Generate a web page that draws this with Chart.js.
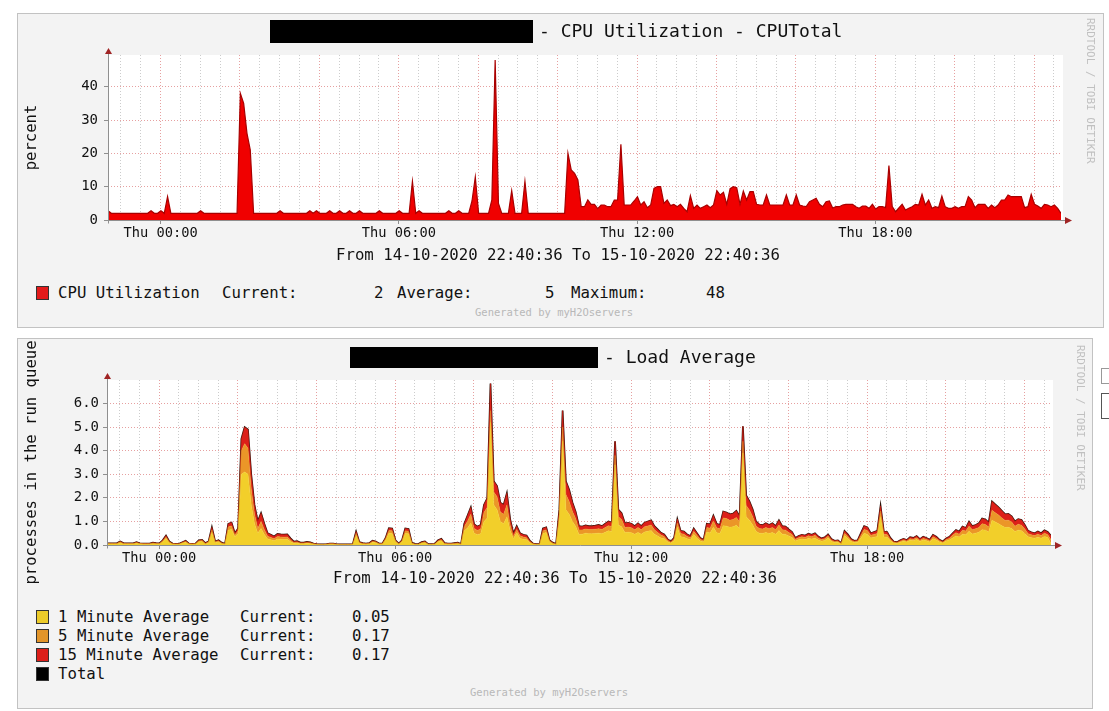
<!DOCTYPE html>
<html>
<head>
<meta charset="utf-8">
<title>CPU Utilization / Load Average</title>
<script src="https://cdn.jsdelivr.net/npm/chart.js@4.4.1/dist/chart.umd.min.js"></script>
<style>
    html, body { margin: 0; padding: 0; background: #fff; }
    body {
        position: relative;
        width: 1109px;
        height: 711px;
        overflow: hidden;
        font-family: 'DejaVu Sans Mono', monospace;
        color: #111;
    }
    .panel {
        position: absolute;
        box-sizing: border-box;
        background: #f3f3f3;
        border: 1px solid #c2c2c2;
    }
    .txt {
        position: absolute;
        white-space: pre;
        height: 20px;
        line-height: 20px;
    }
    .title { font-size: 18px; }
    .big { font-size: 15.7px; }
    .small { font-size: 10.5px; color: #b8b8b8; }
    .mark {
        position: absolute;
        font-size: 11px;
        color: #c0c0c0;
        writing-mode: vertical-rl;
        white-space: pre;
    }
    .redact { position: absolute; background: #000; }
    .swatch { position: absolute; width: 11px; height: 12px; border: 1px solid #333; }
    canvas { position: absolute; }
</style>
</head>
<body>

<div class="panel" style="left:17px; top:13px; width:1087px; height:315px;"></div>
<div class="panel" style="left:17px; top:338px; width:1076px; height:371px;"></div>

<!-- bits of the page next to the second graph -->
<div style="position:absolute; left:1101px; top:368px; width:14px; height:14px; border:1px solid #999;"></div>
<div style="position:absolute; left:1101px; top:393px; width:14px; height:24px; border:1px solid #555;"></div>

<canvas id="cpuChart" width="1084" height="250" style="left:18px; top:14px;"></canvas>
<canvas id="loadChart" width="1073" height="250" style="left:18px; top:340px;"></canvas>

<!-- CPU graph texts -->
<div class="redact" style="left:270px; top:20px; width:263px; height:23px;"></div>
<div class="txt title" style="left:539px; top:21px;">- CPU Utilization - CPUTotal</div>
<div class="mark" style="left:1084px; top:18px;">RRDTOOL / TOBI OETIKER</div>
<div class="txt big" style="left:336px; top:245px;">From 14-10-2020 22:40:36 To 15-10-2020 22:40:36</div>
<div class="swatch" style="left:36px; top:286px; background:#e31b1b;"></div>
<div class="txt big" style="left:58px; top:283px;">CPU Utilization</div>
<div class="txt big" style="left:222px; top:283px;">Current:</div>
<div class="txt big" style="left:374px; top:283px;">2</div>
<div class="txt big" style="left:397px; top:283px;">Average:</div>
<div class="txt big" style="left:545px; top:283px;">5</div>
<div class="txt big" style="left:571px; top:283px;">Maximum:</div>
<div class="txt big" style="left:706px; top:283px;">48</div>
<div class="txt small" style="left:475px; top:302px;">Generated by myH2Oservers</div>

<!-- load graph texts -->
<div class="redact" style="left:350px; top:347px; width:248px; height:21px;"></div>
<div class="txt title" style="left:604px; top:347px;">- Load Average</div>
<div class="mark" style="left:1074px; top:345px;">RRDTOOL / TOBI OETIKER</div>
<div class="txt big" style="left:333px; top:568px;">From 14-10-2020 22:40:36 To 15-10-2020 22:40:36</div>
<div class="swatch" style="left:36px; top:610px; background:#eccb2a;"></div>
<div class="swatch" style="left:36px; top:629px; background:#e3952a;"></div>
<div class="swatch" style="left:36px; top:648px; background:#dc1f1a;"></div>
<div class="swatch" style="left:36px; top:667px; background:#000;"></div>
<div class="txt big" style="left:58px; top:607px;">1 Minute Average</div>
<div class="txt big" style="left:58px; top:626px;">5 Minute Average</div>
<div class="txt big" style="left:58px; top:645px;">15 Minute Average</div>
<div class="txt big" style="left:58px; top:664px;">Total</div>
<div class="txt big" style="left:240px; top:607px;">Current:</div>
<div class="txt big" style="left:240px; top:626px;">Current:</div>
<div class="txt big" style="left:240px; top:645px;">Current:</div>
<div class="txt big" style="left:352px; top:607px;">0.05</div>
<div class="txt big" style="left:352px; top:626px;">0.17</div>
<div class="txt big" style="left:352px; top:645px;">0.17</div>
<div class="txt small" style="left:470px; top:682px;">Generated by myH2Oservers</div>

<script>
// 5 minute samples, 14-10-2020 22:40:36 -> 15-10-2020 22:40:36
const stepMinutes = 5;
const startClock = 22 + 40 / 60 + 36 / 3600;   // hours of day at first sample

// CPU total, percent
const cpuTotal = [
    2.8, 2, 2, 2, 2, 2, 2, 2, 2, 2, 2, 2,
    2, 2.8, 2, 2, 2.8, 2, 7, 2, 2, 2, 2, 2,
    2, 2, 2, 2, 2.8, 2, 2, 2, 2, 2, 2, 2,
    2, 2, 2, 2, 38, 35, 26, 21, 2, 2, 2, 2,
    2, 2, 2, 2, 2.8, 2, 2, 2, 2, 2, 2, 2,
    2, 2.8, 2, 2.8, 2, 2, 2, 2.8, 2, 2, 2.8, 2,
    2, 2.8, 2, 2, 2.8, 2, 2, 2, 2, 2, 2.8, 2,
    2, 2, 2, 2, 2.8, 2, 2, 2, 11.6, 2, 2.8, 2,
    2, 2, 2, 2, 2, 2, 2, 2.8, 2, 2, 2.8, 2,
    2, 2, 5.7, 12.9, 2, 2, 2, 2, 6, 48, 5, 2,
    2, 2, 8.8, 2, 2, 2, 11.6, 2, 2, 2, 2, 2,
    2, 2, 2, 2, 2, 2, 2, 20, 15, 14, 12, 4,
    4, 6, 4.7, 4.7, 3.4, 4.5, 4.5, 4, 4, 6, 6, 22.7,
    4.5, 4.5, 4.5, 5.7, 7, 4.5, 5.5, 3.7, 4.5, 9.5, 10, 10,
    5, 6, 4.3, 4.7, 4, 4.7, 3.5, 2.5, 7.3, 3.5, 4.5, 3.5,
    4, 4.5, 3.7, 4.5, 8.8, 7.5, 8.3, 4.7, 9.4, 10, 9.7, 4.7,
    8.7, 6, 8.5, 8.5, 4.7, 4.5, 4.5, 7.5, 4.5, 4.5, 4.5, 4.5,
    4.5, 7.5, 4.5, 4.5, 7.5, 4.5, 4.2, 4, 5.5, 6, 6.5, 4.7,
    4, 5.5, 5.7, 3.6, 4, 4, 4.5, 4.7, 4.7, 4.7, 4, 3.5,
    4.2, 4.2, 3.5, 4.7, 3.3, 4, 4, 3.7, 16.3, 4, 2.5, 3.6,
    4.7, 3, 3.5, 4, 4.7, 4.5, 7.7, 4.5, 6, 3.5, 4, 3.7,
    7.2, 4, 3.5, 3.5, 4, 3.5, 4, 4, 7, 6, 3.7, 4.7,
    4.7, 4.7, 3.5, 4.5, 3.7, 4.5, 6, 6, 7.5, 7, 7, 7,
    7, 3.7, 4, 7.7, 4.7, 4.2, 3.5, 4.7, 4.5, 4, 4.5, 3.5,
    2
];

// load averages (stacked), processes in the run queue
const load1 = [
    .04, .04, .04, .04, .1, .04, .04, .04, .04, .08, .04, .03,
    .03, .03, .05, .04, .04, .14, .28, .1, .03, .03, .03, .08,
    .12, .03, .03, .03, .14, .15, .04, .1, .53, .1, .14, .05,
    .03, .63, .66, .35, .49, 3.0, 3.1, 3.0, 1.7, .9, .5, .7,
    .45, .25, .22, .18, .25, .24, .23, .24, .14, .07, .08, .05,
    .05, .07, .06, .03, .02, .01, .01, .02, .03, .03, .02, .01,
    .01, .01, .01, .02, .4, .08, .04, .03, .04, .12, .1, .03,
    .03, .21, .5, .49, .14, .03, .14, .49, .48, .05, .02, .02,
    .08, .1, .02, .02, .03, .14, .18, .04, .03, .03, .04, .05,
    .02, .6, .72, .93, .5, .44, .48, .99, 1.15, 5.2, 1.7, 1.5,
    1.0, .9, 1.2, .6, .26, .52, .28, .24, .22, .1, .03, .02,
    .02, .49, .53, .14, .05, .02, 1.05, 4.4, 1.5, 1.3, 1.0, .78,
    .45, .46, .5, .48, .48, .49, .5, .48, .54, .6, .57, 3.4,
    .85, .77, .53, .54, .52, .46, .53, .46, .55, .58, .61, .46,
    .38, .3, .26, .14, .08, .18, .75, .35, .33, .26, .22, .45,
    .29, .17, .13, .55, .51, .75, .52, .49, .82, .8, .75, .77,
    .84, .7, 3.9, 1.2, 1.05, .85, .58, .5, .49, .53, .49, .53,
    .46, .61, .46, .45, .38, .32, .17, .22, .25, .23, .28, .25,
    .29, .21, .16, .19, .3, .15, .11, .12, .04, .4, .28, .15,
    .11, .12, .3, .5, .45, .3, .33, .36, 1.2, .34, .33, .18,
    .09, .07, .12, .16, .13, .2, .18, .23, .15, .21, .18, .13,
    .26, .21, .13, .09, .17, .21, .3, .38, .34, .46, .43, .58,
    .47, .5, .54, .65, .63, .55, 1.05, .98, .9, .82, .74, .75,
    .7, .57, .63, .6, .49, .35, .31, .29, .33, .29, .36, .32,
    .05
];

const load5 = [
    .02, .02, .02, .02, .03, .02, .02, .02, .02, .02, .02, .02,
    .02, .02, .03, .02, .02, .03, .06, .03, .02, .01, .01, .02,
    .03, .02, .01, .02, .03, .04, .02, .03, .11, .03, .03, .03,
    .01, .14, .15, .08, .11, 1.0, 1.2, 1.1, .7, .4, .2, .3,
    .2, .12, .1, .09, .11, .1, .1, .1, .07, .04, .04, .03,
    .03, .03, .03, .02, .01, .01, .01, .01, .02, .02, .01, .01,
    .01, .01, .01, .01, .09, .02, .02, .02, .02, .03, .03, .02,
    .02, .05, .11, .11, .03, .02, .03, .11, .1, .03, .01, .01,
    .02, .03, .01, .01, .01, .03, .04, .02, .02, .02, .02, .03,
    .01, .18, .29, .37, .2, .18, .2, .39, .45, .5, .55, .55,
    .4, .4, .5, .25, .11, .14, .11, .1, .09, .04, .02, .01,
    .01, .11, .11, .03, .03, .01, .25, .6, .65, .55, .42, .33,
    .19, .18, .18, .18, .18, .18, .19, .18, .2, .22, .21, .4,
    .35, .31, .21, .22, .21, .19, .21, .19, .22, .23, .24, .19,
    .15, .12, .1, .06, .04, .06, .18, .14, .13, .1, .09, .13,
    .12, .07, .05, .19, .2, .27, .21, .2, .33, .32, .3, .31,
    .33, .28, .5, .48, .43, .35, .23, .2, .19, .21, .2, .21,
    .19, .24, .19, .18, .15, .13, .07, .09, .1, .09, .11, .1,
    .12, .08, .07, .08, .08, .05, .04, .04, .02, .1, .09, .05,
    .04, .04, .11, .16, .16, .11, .12, .13, .24, .12, .12, .06,
    .03, .03, .04, .05, .04, .07, .06, .08, .05, .07, .06, .05,
    .09, .07, .05, .03, .06, .07, .11, .14, .12, .17, .16, .22,
    .18, .19, .2, .25, .24, .21, .42, .39, .37, .33, .3, .3,
    .28, .23, .25, .24, .19, .13, .12, .11, .13, .11, .14, .12,
    .17
];

const load15 = [
    .01, .01, .01, .01, .02, .02, .01, .01, .01, .02, .01, .01,
    .01, .01, .02, .02, .01, .03, .06, .02, .01, .01, .01, .02,
    .03, .01, .01, .01, .03, .03, .02, .02, .11, .02, .03, .02,
    .01, .13, .14, .07, .1, .5, .7, .8, .6, .4, .3, .35,
    .25, .13, .11, .09, .11, .11, .11, .11, .07, .03, .04, .02,
    .02, .03, .02, .01, .01, .01, .01, .01, .01, .01, .01, .01,
    .01, .01, .01, .01, .08, .02, .02, .01, .02, .03, .02, .01,
    .01, .04, .1, .1, .03, .01, .03, .1, .1, .02, .01, .01,
    .02, .02, .01, .01, .01, .03, .04, .02, .01, .01, .02, .02,
    .01, .12, .24, .3, .18, .16, .17, .32, .38, 1.15, .45, .45,
    .4, .4, .5, .25, .11, .14, .11, .09, .09, .04, .01, .01,
    .01, .1, .11, .03, .02, .01, .2, .7, .55, .49, .38, .29,
    .16, .14, .15, .14, .14, .15, .16, .14, .16, .18, .17, .6,
    .3, .27, .18, .18, .17, .15, .18, .15, .18, .19, .2, .15,
    .13, .1, .09, .05, .03, .06, .17, .11, .11, .09, .07, .12,
    .09, .06, .04, .16, .17, .23, .17, .16, .27, .26, .25, .25,
    .28, .22, .64, .42, .37, .3, .19, .17, .16, .18, .16, .18,
    .15, .2, .15, .15, .13, .1, .06, .07, .08, .08, .09, .08,
    .09, .07, .05, .06, .07, .05, .03, .04, .02, .1, .08, .05,
    .03, .04, .09, .14, .14, .09, .1, .11, .22, .11, .1, .06,
    .03, .02, .04, .05, .04, .06, .06, .07, .05, .07, .06, .04,
    .08, .07, .04, .03, .05, .07, .09, .12, .11, .15, .13, .19,
    .15, .16, .18, .22, .21, .19, .38, .35, .33, .3, .26, .27,
    .24, .2, .22, .22, .17, .12, .11, .1, .11, .1, .12, .11,
    .17
];

// axis labels
const xLabelClock = [0, 6, 12, 18];
const xLabels = ['Thu 00:00', 'Thu 06:00', 'Thu 12:00', 'Thu 18:00'];
const cpuTickValues = [0, 5, 10, 15, 20, 25, 30, 35, 40, 45];
const cpuTickLabels = ['0', '10', '20', '30', '40'];
const loadTickValues = [0, 0.5, 1, 1.5, 2, 2.5, 3, 3.5, 4, 4.5, 5, 5.5, 6, 6.5];
const loadTickLabels = ['0.0', '1.0', '2.0', '3.0', '4.0', '5.0', '6.0'];

const hours = cpuTotal.map((_, i) => i * stepMinutes / 60);
const loadTotal = load1.map((v, i) => +(v + load5[i] + load15[i]).toFixed(2));

const MONO = "'DejaVu Sans Mono', monospace";
const GRID_MINOR = '#cccccc';
const GRID_MAJOR = '#e6a0a0';

Chart.defaults.font.family = MONO;
Chart.defaults.color = '#111';

/**
 * Grid every 30 minutes, stronger line every 2 hours, label every 6 hours
 */
function timeTicks() {
    const ticks = [];
    for (let t = Math.ceil(startClock * 2) / 2 - startClock; t <= 24 + 1e-6; t += 0.5) {
        const clock = (Math.round((startClock + t) * 2) / 2) % 24;
        const idx = xLabelClock.indexOf(clock);
        ticks.push({ value: t, isMajor: clock % 2 === 0, text: idx >= 0 ? xLabels[idx] : '' });
    }
    return ticks;
}

function valueTicks(values, labels, majorStep) {
    return values.map(v => {
        const idx = labels.findIndex(l => Number(l) === v);
        return { value: v, isMajor: Math.abs(v / majorStep - Math.round(v / majorStep)) < 1e-6, text: idx >= 0 ? labels[idx] : '' };
    });
}

// white plot area, axis lines and the arrow heads
const rrdFrame = {
    id: 'rrdFrame',
    beforeDraw(chart) {
        const { ctx, chartArea: a } = chart;
        ctx.save();
        ctx.fillStyle = '#ffffff';
        ctx.fillRect(a.left, a.top, a.right - a.left + 2, a.bottom - a.top);
        ctx.restore();
    },
    afterDatasetsDraw(chart) {
        const { ctx, chartArea: a } = chart;
        const x0 = Math.round(a.left) + 0.5;
        const y0 = Math.round(a.bottom) + 0.5;
        ctx.save();
        ctx.strokeStyle = '#8f8f8f';
        ctx.lineWidth = 1;
        ctx.beginPath();
        ctx.moveTo(x0, y0 + 3);
        ctx.lineTo(x0, a.top - 3);
        ctx.moveTo(x0 - 3, y0);
        ctx.lineTo(a.right + 5, y0);
        ctx.stroke();

        ctx.fillStyle = '#a02424';
        ctx.beginPath();
        ctx.moveTo(x0, a.top - 7);
        ctx.lineTo(x0 - 3.5, a.top - 1);
        ctx.lineTo(x0 + 3.5, a.top - 1);
        ctx.closePath();
        ctx.fill();
        ctx.beginPath();
        ctx.moveTo(a.right + 11, y0);
        ctx.lineTo(a.right + 4, y0 - 3.5);
        ctx.lineTo(a.right + 4, y0 + 3.5);
        ctx.closePath();
        ctx.fill();
        ctx.restore();
    }
};

function xScale() {
    return {
        type: 'linear',
        min: 0,
        max: 24,
        afterBuildTicks: scale => { scale.ticks = timeTicks(); },
        afterFit: scale => { scale.height = 30; },
        ticks: {
            autoSkip: false,
            maxRotation: 0,
            padding: 1,
            font: { size: 13.7 },
            callback: (value, index, ticks) => ticks[index].text
        },
        grid: {
            color: ctx => (ctx.tick && ctx.tick.isMajor ? GRID_MAJOR : GRID_MINOR),
            lineWidth: 1,
            tickLength: 4,
            tickColor: ctx => (ctx.tick && ctx.tick.text ? '#8f8f8f' : 'rgba(0,0,0,0)')
        },
        border: { display: false, dash: [1, 2] }
    };
}

function yScale(max, values, labels, majorStep, width, pad, title) {
    return {
        min: 0,
        max: max,
        stacked: true,
        afterBuildTicks: scale => { scale.ticks = valueTicks(values, labels, majorStep); },
        afterFit: scale => { scale.width = width; },
        ticks: {
            padding: pad,
            font: { size: 14 },
            callback: (value, index, ticks) => ticks[index].text
        },
        grid: {
            color: ctx => (ctx.tick && ctx.tick.isMajor ? GRID_MAJOR : GRID_MINOR),
            lineWidth: 1,
            tickLength: 4,
            tickColor: ctx => (ctx.tick && ctx.tick.text ? '#8f8f8f' : 'rgba(0,0,0,0)')
        },
        border: { display: false, dash: [1, 2] },
        title: {
            display: true,
            text: title,
            font: { size: 15.6 },
            padding: { top: 4.6, bottom: 0 }
        }
    };
}

const baseOptions = {
    responsive: false,
    animation: false,
    devicePixelRatio: 1,
    elements: { point: { radius: 0 }, line: { tension: 0 } },
    plugins: { legend: { display: false }, tooltip: { enabled: false } }
};

new Chart(document.getElementById('cpuChart'), {
    type: 'line',
    data: {
        labels: hours,
        datasets: [{
            label: 'CPU Utilization',
            data: cpuTotal,
            backgroundColor: '#f00000',
            borderColor: '#a80000',
            borderWidth: 1.2,
            fill: 'origin'
        }]
    },
    options: {
        ...baseOptions,
        layout: { padding: { left: 0, right: 41, top: 41, bottom: 14 } },
        scales: {
            x: xScale(),
            y: yScale(49.5, cpuTickValues, cpuTickLabels, 10, 90, 6, 'percent')
        }
    },
    plugins: [rrdFrame]
});

new Chart(document.getElementById('loadChart'), {
    type: 'line',
    data: {
        labels: hours,
        datasets: [
            {
                label: '1 Minute Average',
                data: load1,
                backgroundColor: '#f2cf2a',
                borderColor: '#f2cf2a',
                borderWidth: 0.5,
                fill: 'origin',
                stack: 'load'
            },
            {
                label: '5 Minute Average',
                data: load5,
                backgroundColor: '#eb9628',
                borderColor: '#eb9628',
                borderWidth: 0.5,
                fill: '-1',
                stack: 'load'
            },
            {
                label: '15 Minute Average',
                data: load15,
                backgroundColor: '#dc2019',
                borderColor: '#dc2019',
                borderWidth: 0.5,
                fill: '-1',
                stack: 'load'
            },
            {
                label: 'Total',
                data: loadTotal,
                borderColor: '#2a1208',
                borderWidth: 1.7,
                fill: false,
                stack: 'total'
            }
        ]
    },
    options: {
        ...baseOptions,
        layout: { padding: { left: 0, right: 40, top: 40, bottom: 15 } },
        scales: {
            x: xScale(),
            y: yScale(7.0, loadTickValues, loadTickLabels, 1, 89, 4, 'processes in the run queue')
        }
    },
    plugins: [rrdFrame]
});
</script>
</body>
</html>
